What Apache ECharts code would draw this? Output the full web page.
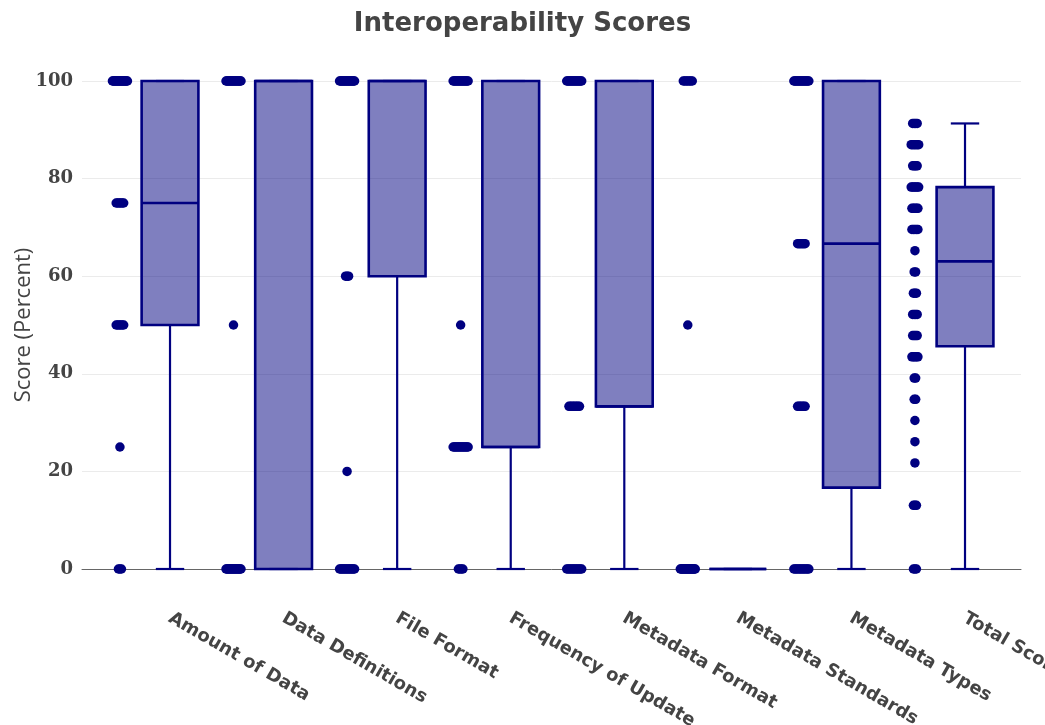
<!DOCTYPE html>
<html>
<head>
<meta charset="utf-8">
<script src="https://cdn.jsdelivr.net/npm/echarts@6/dist/echarts.min.js"></script>
<style>
  html, body { margin: 0; padding: 0; background: #fff; }
  #chart { width: 1045px; height: 725px; }
</style>
</head>
<body>
<div id="chart"></div>
<script>
// ---- data ----
const categories = ['Amount of Data', 'Data Definitions', 'File Format', 'Frequency of Update',
  'Metadata Format', 'Metadata Standards', 'Metadata Types', 'Total Score'];

const yTicks = [0, 20, 40, 60, 80, 100];

// box statistics per category
const whiskerLow  = [0, 0, 0, 0, 0, 0, 0, 0];
const quartile1   = [50, 0, 60, 25, 33.33, 0, 16.67, 45.65];
const medians     = [75, 100, 100, 25, 33.33, 0, 66.67, 63.04];
const quartile3   = [100, 100, 100, 100, 100, 0, 100, 78.26];
const whiskerHigh = [100, 100, 100, 100, 100, 0, 100, 91.30];

// individual scores: distinct values and how many datasets share each value
const amountValues = [100, 75, 50, 25, 0];
const amountCounts = [20, 6, 6, 1, 3];
const definitionValues = [100, 50, 0];
const definitionCounts = [18, 1, 18];
const fileFormatValues = [100, 60, 20, 0];
const fileFormatCounts = [18, 3, 1, 14];
const frequencyValues = [100, 50, 25, 0];
const frequencyCounts = [16, 1, 14, 4];
const metaFormatValues = [100, 33.33, 0];
const metaFormatCounts = [16, 8, 12];
const metaStandardValues = [100, 50, 0];
const metaStandardCounts = [7, 1, 20];
const metaTypeValues = [100, 66.67, 33.33, 0];
const metaTypeCounts = [16, 6, 6, 12];
const totalValues = [91.30, 86.96, 82.61, 78.26, 73.91, 69.57, 65.22, 60.87, 56.52, 52.17,
  47.83, 43.48, 39.13, 34.78, 30.43, 26.09, 21.74, 13.04, 0];
const totalCounts = [4, 6, 4, 6, 5, 5, 1, 2, 3, 4, 4, 5, 2, 2, 1, 1, 1, 3, 3];

const pointValues = [amountValues, definitionValues, fileFormatValues, frequencyValues,
  metaFormatValues, metaStandardValues, metaTypeValues, totalValues];
const pointCounts = [amountCounts, definitionCounts, fileFormatCounts, frequencyCounts,
  metaFormatCounts, metaStandardCounts, metaTypeCounts, totalCounts];

// ---- layout & style ----
const NAVY = '#000080';
const BOX_FILL = 'rgba(0,0,128,0.5)';
const TEXT = '#444444';
const PLOT_LEFT = 82, PLOT_RIGHT = 24, PLOT_TOP = 81, PLOT_BOTTOM = 156;
const PLOT_WIDTH = 1045 - PLOT_LEFT - PLOT_RIGHT;
const X_MIN = -0.546, X_MAX = 7.722;           // category index range of the plot area
const UNITS_PER_PX = (X_MAX - X_MIN) / PLOT_WIDTH;
const BOX_OFFSET = 0.229, BOX_WIDTH = 0.5;      // box sits right of the category centre
const POINT_OFFSET = -0.212;                    // points sit left of it
const MAX_HALF_SPREAD_PX = 7.5;

// spread duplicate scores side by side so their count shows as a wider cluster
const scatterData = [];
pointValues.forEach((vals, ci) => {
  vals.forEach((v, k) => {
    const n = pointCounts[ci][k];
    const half = n > 1 ? Math.min(MAX_HALF_SPREAD_PX, 0.75 * (n - 1)) : 0;
    for (let j = 0; j < n; j++) {
      const px = n > 1 ? -half + (2 * half * j) / (n - 1) : 0;
      scatterData.push([ci + POINT_OFFSET + px * UNITS_PER_PX, v]);
    }
  });
});

const boxData = categories.map((c, i) =>
  [i, whiskerLow[i], quartile1[i], medians[i], quartile3[i], whiskerHigh[i]]);

function renderBox(params, api) {
  const i = api.value(0);
  const x = i + BOX_OFFSET;
  const lo = api.coord([x, api.value(1)]);
  const b1 = api.coord([x, api.value(2)]);
  const md = api.coord([x, api.value(3)]);
  const b3 = api.coord([x, api.value(4)]);
  const hi = api.coord([x, api.value(5)]);
  const w = api.size([BOX_WIDTH, 0])[0];
  const cap = w / 2;
  const cx = lo[0];
  const ln = (lw) => ({ stroke: NAVY, lineWidth: lw, fill: null });
  return {
    type: 'group',
    children: [
      { type: 'line', shape: { x1: cx, y1: lo[1], x2: cx, y2: b1[1] }, style: ln(2.2) },
      { type: 'line', shape: { x1: cx, y1: b3[1], x2: cx, y2: hi[1] }, style: ln(2.2) },
      { type: 'line', shape: { x1: cx - cap / 2, y1: lo[1], x2: cx + cap / 2, y2: lo[1] }, style: ln(2.2) },
      { type: 'line', shape: { x1: cx - cap / 2, y1: hi[1], x2: cx + cap / 2, y2: hi[1] }, style: ln(2.2) },
      { type: 'rect', shape: { x: cx - w / 2, y: b3[1], width: w, height: b1[1] - b3[1] },
        style: { fill: BOX_FILL, stroke: NAVY, lineWidth: 2.6 } },
      { type: 'line', shape: { x1: cx - w / 2, y1: md[1], x2: cx + w / 2, y2: md[1] }, style: ln(2.6) }
    ]
  };
}

const chart = echarts.init(document.getElementById('chart'), null, { renderer: 'canvas' });
chart.setOption({
  animation: false,
  backgroundColor: '#ffffff',
  title: {
    text: 'Interoperability Scores',
    left: 'center',
    top: 6,
    textStyle: { fontFamily: 'DejaVu Sans', fontWeight: 'bold', fontSize: 26, color: TEXT }
  },
  grid: [
    { left: PLOT_LEFT, right: PLOT_RIGHT, top: PLOT_TOP, bottom: PLOT_BOTTOM, outerBoundsMode: 'none' },
    { left: 113, right: 24, top: PLOT_TOP, bottom: PLOT_BOTTOM, outerBoundsMode: 'none' }
  ],
  xAxis: [
    {
      gridIndex: 0, type: 'value', min: X_MIN, max: X_MAX,
      axisLine: { show: true, onZero: false, lineStyle: { color: '#666', width: 1 } },
      axisTick: { show: false }, axisLabel: { show: false }, splitLine: { show: false }
    },
    {
      gridIndex: 1, type: 'category', data: categories, boundaryGap: true,
      axisLine: { show: false }, axisTick: { show: false }, splitLine: { show: false },
      axisLabel: {
        interval: 0, rotate: -30, margin: 48,
        fontFamily: 'DejaVu Sans', fontWeight: 'bold', fontSize: 18, color: TEXT
      }
    }
  ],
  yAxis: [
    {
      gridIndex: 0, type: 'value', min: yTicks[0], max: yTicks[yTicks.length - 1], interval: 20,
      name: 'Score (Percent)', nameLocation: 'middle', nameGap: 47, nameRotate: 90,
      nameMoveOverlap: false,
      nameTextStyle: { fontFamily: 'Open Sans', fontSize: 22, color: TEXT },
      axisLine: { show: false }, axisTick: { show: false },
      axisLabel: { margin: 9, fontFamily: 'DejaVu Serif', fontWeight: 'bold', fontSize: 18, color: TEXT },
      splitLine: { show: true, lineStyle: { color: '#ebebeb', width: 1 } }
    },
    { gridIndex: 1, type: 'value', min: 0, max: 100, show: false }
  ],
  series: [
    {
      type: 'custom', xAxisIndex: 0, yAxisIndex: 0,
      renderItem: renderBox, data: boxData, clip: false, z: 2
    },
    {
      type: 'scatter', xAxisIndex: 0, yAxisIndex: 0,
      data: scatterData, symbol: 'circle', symbolSize: 9.5, clip: false,
      itemStyle: { color: NAVY, opacity: 1 }, z: 3
    }
  ]
});
</script>
</body>
</html>
